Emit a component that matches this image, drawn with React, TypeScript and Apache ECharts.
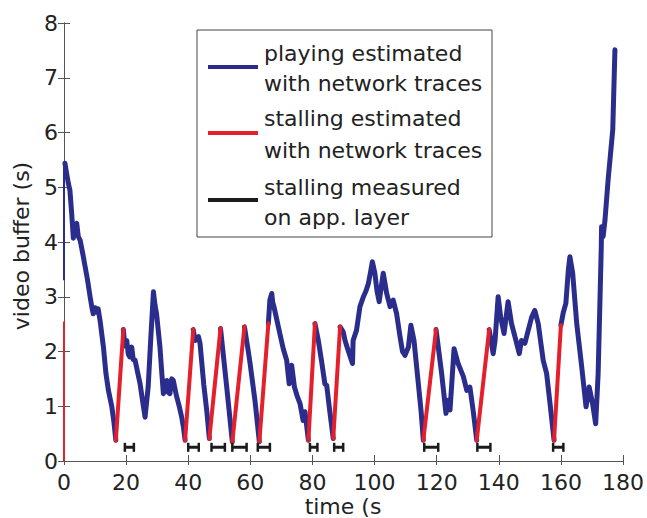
import React, { useEffect, useRef } from "react";
import * as echarts from "echarts";

// time (s) and video buffer (s) of the estimated buffer curve
const timeS = [
  0.3, 1.0, 1.4, 1.9, 2.5, 3.0, 3.5, 4.1, 4.6, 5.2, 6.0, 6.8, 7.6, 8.4, 9.0, 9.4, 10.0, 10.5, 11.0, 11.6,
  12.7, 13.5, 14.3, 15.4, 16.1, 16.7, 19.1, 19.6, 20.2, 20.7, 21.2, 21.8, 22.3, 22.9, 23.7, 24.5, 25.3,
  26.1, 27.1, 28.0, 28.8, 29.3, 29.8, 30.9, 31.5, 32.0, 32.6, 33.1, 33.6, 34.1, 34.7, 35.2, 35.8, 36.3,
  37.1, 37.9, 38.5, 39.0, 41.6, 42.2, 42.7, 43.3, 43.8, 45.0, 46.0, 46.8, 50.4, 52.3, 54.2, 58.1, 59.3,
  59.9, 61.5, 62.9, 65.8, 66.3, 66.9, 67.2, 67.6, 69.5, 70.6, 71.7, 72.5, 73.3, 74.2, 75.0, 76.0, 77.0,
  77.6, 78.7, 80.8, 81.9, 83.0, 84.0, 84.6, 85.6, 86.7, 88.9, 89.9, 90.5, 91.5, 92.9, 93.1, 94.2, 95.3,
  96.4, 97.2, 98.0, 98.7, 99.3, 100.1, 100.8, 101.5, 102.2, 102.8, 103.9, 105.0, 106.0, 107.1, 108.2,
  109.0, 109.8, 110.9, 111.7, 112.7, 114.1, 115.0, 115.7, 119.8, 121.6, 123.0, 123.7, 124.3, 125.6,
  126.9, 128.6, 129.7, 130.7, 131.8, 132.9, 136.9, 138.2, 138.8, 139.8, 140.6, 141.7, 143.0, 144.1,
  145.2, 146.6, 147.3, 148.4, 149.5, 150.6, 151.6, 152.7, 154.3, 155.4, 156.6, 157.8, 160.0, 160.8,
  161.6, 162.4, 162.9, 163.8, 165.1, 166.7, 168.1, 169.1, 170.2, 171.2, 172.0, 172.6, 173.0, 173.1,
  173.6, 174.2, 175.2, 176.0, 176.7, 177.4,
];
const bufferS = [
  5.44, 5.2, 5.07, 4.95, 4.5, 4.07, 4.3, 4.34, 4.1, 4.03, 3.8, 3.55, 3.3, 3.0, 2.8, 2.69, 2.8, 2.72, 2.78,
  2.57, 2.08, 1.6, 1.29, 0.99, 0.7, 0.38, 2.4, 2.1, 2.2, 1.95, 1.9, 2.08, 1.85, 1.84, 1.62, 1.41, 1.1,
  0.8, 1.35, 2.3, 3.09, 2.85, 2.69, 2.08, 1.6, 1.23, 1.45, 1.47, 1.25, 1.23, 1.5, 1.47, 1.3, 1.17,
  1.0, 0.8, 0.6, 0.38, 2.4, 2.2, 2.24, 2.27, 2.15, 1.4, 0.9, 0.41, 2.42, 1.4, 0.35, 2.45, 2.02,
  1.79, 1.1, 0.35, 2.51, 2.94, 3.06, 2.9, 2.82, 2.33, 2.05, 1.84, 1.41, 1.75, 1.35, 1.2, 1.05, 0.74,
  0.9, 0.38, 2.51, 2.2, 1.8, 1.41, 1.38, 0.9, 0.41, 2.45, 2.36, 2.2, 2.02, 1.78, 2.2, 2.39, 2.82,
  3.0, 3.1, 3.24, 3.45, 3.64, 3.43, 3.1, 2.91, 3.2, 3.43, 3.06, 2.82, 2.94, 2.69, 2.27,
  2.0, 1.93, 2.08, 2.48, 2.2, 1.41, 0.9, 0.38, 2.4, 1.6, 0.87, 1.11, 0.93, 2.05,
  1.78, 1.54, 1.29, 1.35, 0.9, 0.38, 2.4, 1.96, 2.2, 3.0, 2.63, 2.33, 2.91, 2.51,
  2.27, 1.96, 2.2, 2.15, 2.39, 2.63, 2.75, 2.51, 1.84, 1.6, 1.0, 0.38, 2.48, 2.72,
  2.88, 3.49, 3.73, 3.43, 2.51, 1.72, 0.99, 1.35, 1.05, 0.68, 1.6, 2.97, 3.9, 4.28,
  4.1, 4.4, 5.13, 5.62, 6.05, 7.51,
];
// start times of the estimated stalls (buffer refills linearly to the next point)
const stallStartTimes = [16.7, 39.0, 46.8, 54.2, 62.9, 78.7, 86.7, 115.7, 132.9, 157.8];
// initial phase at t = 0
const initStallTime = [0, 0];
const initStallBuffer = [0, 2.55];
const initPlayTime = [0, 0, 0.3];
const initPlayBuffer = [3.3, 5.44, 5.44];
// stalls measured on the application layer
const measuredStart = [19.6, 40.0, 47.5, 54.2, 62.4, 79.2, 87.0, 116.0, 133.1, 157.5];
const measuredEnd = [22.5, 43.4, 51.8, 58.8, 66.3, 81.6, 89.9, 120.5, 137.3, 160.8];
const measuredLevel = 0.25;

const xTicks = { min: 0, max: 180, interval: 20 };
const yTicks = { min: 0, max: 8, interval: 1 };

const BLUE = "#2b2d8c";
const RED = "#e4202b";
const BLACK = "#1b1b1b";
const FONT = "DejaVu Sans";

export default function App() {
  const ref = useRef<HTMLDivElement>(null);
  useEffect(() => {
    document.body.style.margin = "0";
    const chart = echarts.init(ref.current!, null, { renderer: "svg" });

    const stallSet = new Set(stallStartTimes);
    const blueData: any[] = [];
    const redData: any[] = [];
    for (let i = 0; i < timeS.length; i++) {
      blueData.push([timeS[i], bufferS[i]]);
      if (stallSet.has(timeS[i]) && i + 1 < timeS.length) {
        blueData.push([timeS[i], null]);
        redData.push([timeS[i], bufferS[i]], [timeS[i + 1], bufferS[i + 1]], [timeS[i + 1], null]);
      }
    }
    const initStall = initStallTime.map((t, i) => [t, initStallBuffer[i]]);
    const initPlay = initPlayTime.map((t, i) => [t, initPlayBuffer[i]]);
    const measData: any[] = [];
    measuredStart.forEach((s, i) => {
      measData.push([s, measuredLevel], [measuredEnd[i], measuredLevel], [measuredEnd[i], null]);
    });

    const axisLine = { show: true, lineStyle: { color: "#555", width: 1 } };
    const label = { color: "#222", fontFamily: FONT, fontSize: 22 };

    chart.setOption({
      animation: false,
      backgroundColor: "#fff",
      grid: { left: 64, top: 23, width: 559, height: 438, containLabel: false },
      xAxis: [
        {
          type: "value", ...xTicks, position: "bottom",
          axisLine, splitLine: { show: false },
          axisTick: { inside: true, length: 6, lineStyle: { color: "#555" } },
          axisLabel: { ...label, margin: 10 },
        },
        {
          type: "value", ...xTicks, position: "top",
          axisLine, splitLine: { show: false },
          axisTick: { inside: true, length: 4, lineStyle: { color: "#555" } },
          axisLabel: { show: false },
        },
      ],
      yAxis: [
        {
          type: "value", ...yTicks, position: "left",
          axisLine, splitLine: { show: false },
          axisTick: { inside: true, length: 6, lineStyle: { color: "#555" } },
          axisLabel: { ...label, margin: 6 },
        },
        {
          type: "value", ...yTicks, position: "right",
          axisLine, splitLine: { show: false },
          axisTick: { inside: true, length: 6, lineStyle: { color: "#555" } },
          axisLabel: { show: false },
        },
      ],
      series: [
        {
          type: "line", data: initPlay, showSymbol: false, z: 3,
          lineStyle: { color: BLUE, width: 2 },
        },
        {
          type: "line", data: initStall, showSymbol: false, z: 3,
          lineStyle: { color: RED, width: 2 },
        },
        {
          type: "line", data: blueData, showSymbol: false, connectNulls: false, z: 4,
          lineStyle: { color: BLUE, width: 5, join: "round", cap: "round" },
        },
        {
          type: "line", data: redData, showSymbol: false, connectNulls: false, z: 5,
          lineStyle: { color: RED, width: 4, cap: "round" },
        },
        {
          type: "line", data: measData, connectNulls: false, z: 6,
          showSymbol: true, showAllSymbol: true, symbol: "rect", symbolSize: [2.5, 9],
          itemStyle: { color: BLACK },
          lineStyle: { color: BLACK, width: 3 },
        },
      ],
      graphic: [
        {
          type: "text", x: 21, y: 246, rotation: Math.PI / 2,
          style: { text: "video buffer (s)", fontFamily: FONT, fontSize: 22, fill: "#222", align: "center", verticalAlign: "middle" },
        },
        {
          type: "text", x: 343, y: 506,
          style: { text: "time (s", fontFamily: FONT, fontSize: 22, fill: "#222", align: "center", verticalAlign: "middle" },
        },
        {
          type: "rect", shape: { x: 197, y: 30, width: 295, height: 207 },
          style: { fill: "#fff", stroke: "#444", lineWidth: 1 }, z: 10,
        },
        { type: "line", shape: { x1: 208, y1: 67, x2: 258, y2: 67 }, style: { stroke: BLUE, lineWidth: 4 }, z: 11 },
        { type: "line", shape: { x1: 208, y1: 133, x2: 258, y2: 133 }, style: { stroke: RED, lineWidth: 4 }, z: 11 },
        { type: "line", shape: { x1: 208, y1: 200, x2: 258, y2: 200 }, style: { stroke: BLACK, lineWidth: 4 }, z: 11 },
        ...[
          ["playing estimated", 53],
          ["with network traces", 83],
          ["stalling estimated", 118],
          ["with network traces", 150],
          ["stalling measured", 187],
          ["on app. layer", 217],
        ].map(([t, y]) => ({
          type: "text", x: 264, y: y as number, z: 11,
          style: { text: t as string, fontFamily: FONT, fontSize: 22, fill: "#222", align: "left", verticalAlign: "middle" },
        })),
      ],
    });
    return () => chart.dispose();
  }, []);
  return <div ref={ref} style={{ width: 647, height: 518 }} />;
}
